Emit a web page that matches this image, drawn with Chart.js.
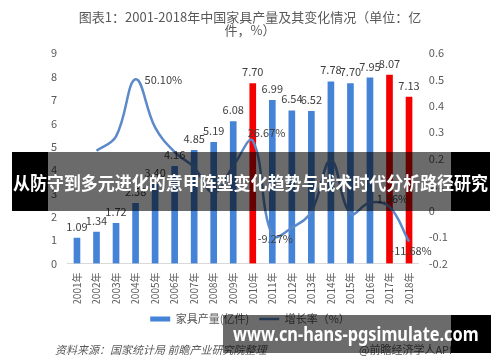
<!DOCTYPE html>
<html>
<head>
<meta charset="utf-8">
<script src="https://cdn.jsdelivr.net/npm/chart.js@4.4.1/dist/chart.umd.min.js"></script>
<style>
  body { margin: 0; background: #fff; }
  #wrap { position: relative; width: 500px; height: 362px; overflow: hidden;
          font-family: "Noto Sans CJK SC", "Noto Sans", sans-serif; }
  #c { position: absolute; left: 0; top: 0; }
  .src { position: absolute; top: 341px; font-size: 11px; color: #595959; white-space: nowrap; }
  .band { position: absolute; }
  .band .blk { position: absolute; top: 0; bottom: 0; background: #000; }
  .band .tr { position: absolute; top: 0; bottom: 0; background: rgba(0, 0, 0, 0.58); }
  .band span { position: absolute; color: #fff; font-weight: bold; white-space: nowrap;
               transform-origin: left center; }
</style>
</head>
<body>
<div id="wrap">
  <canvas id="c" width="500" height="362"></canvas>
  <div class="src" style="left:55px;font-style:italic;">资料来源：国家统计局 前瞻产业研究院整理</div>
  <div class="src" style="left:359px;">@前瞻经济学人APP</div>

  <div class="band" style="left:12px;top:152px;width:478px;height:59px;">
    <div class="blk" style="left:0;width:36px;"></div>
    <div class="tr" style="left:36px;width:403px;"></div>
    <div class="blk" style="left:439px;width:39px;"></div>
    <span id="t1" style="left:1px;top:17px;font-size:18px;line-height:26px;">从防守到多元进化的意甲阵型变化趋势与战术时代分析路径研究</span>
  </div>
  <div class="band" style="left:223px;top:315px;width:268px;height:38px;">
    <div class="tr" style="left:0;width:228px;"></div>
    <div class="blk" style="left:228px;width:40px;"></div>
    <span id="t2" style="left:10px;top:5px;font-family:'Noto Sans',sans-serif;font-size:20px;line-height:28px;">www.cn-hans-pgsimulate.com</span>
  </div>
</div>

<script>
// 数据
const years = ['2001年', '2002年', '2003年', '2004年', '2005年', '2006年', '2007年', '2008年', '2009年',
               '2010年', '2011年', '2012年', '2013年', '2014年', '2015年', '2016年', '2017年', '2018年'];
const output = [1.09, 1.34, 1.72, 2.58, 3.40, 4.16, 4.85, 5.19, 6.08,
                7.70, 6.99, 6.54, 6.52, 7.78, 7.70, 7.95, 8.07, 7.13];
const growth = [null, 0.229, 0.284, 0.501, 0.318, 0.224, 0.166, 0.070, 0.171,
                0.2667, -0.0927, -0.064, -0.003, 0.193, -0.010, 0.032, 0.0156, -0.1168];
const redYears = ['2010年', '2017年', '2018年'];
const labeledGrowth = ['2004年', '2010年', '2011年', '2017年', '2018年'];
const leftRange = [0, 9];
const rightRange = [-0.2, 0.6];

// 标签位置
const growthLabelPos = {
    '2004年': { dx: 9, dy: 1, align: 'left' },
    '2010年': { dx: -5, dy: -8, align: 'left' },
    '2011年': { dx: 3, dy: 4, align: 'center' },
    '2017年': { dx: 3, dy: -8, align: 'center' },
    '2018年': { dx: 2, dy: 9, align: 'center' }
};

const FONT = '"Noto Sans CJK SC", "Noto Sans", sans-serif';
const BLUE = '#4583d6';
const RED = '#f50000';
const LINE = '#5b89c9';

const valueLabels = {
    id: 'valueLabels',
    afterDatasetsDraw(chart) {
        const ctx = chart.ctx;
        ctx.save();
        ctx.font = '11px ' + FONT;
        ctx.fillStyle = '#404040';
        ctx.textBaseline = 'middle';
        ctx.textAlign = 'center';
        chart.getDatasetMeta(0).data.forEach((bar, i) => {
            ctx.fillText(output[i].toFixed(2), bar.x, bar.y - 11.5);
        });
        const pts = chart.getDatasetMeta(1).data;
        labeledGrowth.forEach(y => {
            const i = years.indexOf(y);
            const p = pts[i];
            const pos = growthLabelPos[y];
            ctx.textAlign = pos.align;
            ctx.fillText((growth[i] * 100).toFixed(2) + '%', p.x + pos.dx, p.y + pos.dy);
        });
        ctx.restore();
    }
};

new Chart(document.getElementById('c'), {
    data: {
        labels: years,
        datasets: [{
            type: 'bar',
            label: '家具产量(亿件)',
            data: output,
            yAxisID: 'y',
            order: 2,
            barThickness: 6,
            backgroundColor: years.map(y => redYears.includes(y) ? RED : BLUE)
        }, {
            type: 'line',
            label: '增长率（%）',
            data: growth,
            yAxisID: 'y1',
            order: 1,
            borderColor: LINE,
            backgroundColor: LINE,
            borderWidth: 2.5,
            pointRadius: 0,
            tension: 0.4,
            spanGaps: false
        }]
    },
    options: {
        responsive: false,
        animation: false,
        layout: { padding: { top: 0, bottom: 27.5, left: 0, right: 0 } },
        plugins: {
            tooltip: { enabled: false },
            title: {
                display: true,
                text: ['图表1：2001-2018年中国家具产量及其变化情况（单位：亿', '件，%）'],
                color: '#595959',
                font: { size: 13, family: FONT, weight: 'normal', lineHeight: 1.05 },
                padding: { top: 10, bottom: 16 }
            },
            legend: {
                position: 'bottom',
                labels: {
                    color: '#595959',
                    font: { size: 11, family: FONT },
                    usePointStyle: true,
                    pointStyleWidth: 20,
                    boxHeight: 5,
                    padding: 10,
                    sort: (a, b) => a.datasetIndex - b.datasetIndex,
                    generateLabels(chart) {
                        const items = Chart.defaults.plugins.legend.labels.generateLabels(chart);
                        items.forEach(it => {
                            if (it.datasetIndex === 0) {
                                it.pointStyle = 'rect';
                                it.fillStyle = BLUE;
                                it.lineWidth = 0;
                            } else {
                                it.pointStyle = 'line';
                                it.strokeStyle = LINE;
                                it.lineWidth = 2.5;
                            }
                        });
                        return items;
                    }
                }
            }
        },
        scales: {
            x: {
                grid: { display: false, drawTicks: false },
                border: { display: true, color: '#d9d9d9' },
                ticks: {
                    color: '#595959', font: { size: 10, family: FONT },
                    minRotation: 90, maxRotation: 90, autoSkip: false, padding: 9
                },
                afterFit(axis) { axis.height = 40; }
            },
            y: {
                position: 'left',
                min: leftRange[0], max: leftRange[1],
                grid: { display: false, drawTicks: false },
                border: { display: false },
                ticks: { stepSize: 1, color: '#595959', font: { size: 11, family: FONT }, padding: 10 },
                afterFit(axis) { axis.width = 67.2; }
            },
            y1: {
                position: 'right',
                min: rightRange[0], max: rightRange[1],
                grid: { display: false, drawTicks: false },
                border: { display: false },
                ticks: { stepSize: 0.1, color: '#595959', font: { size: 11, family: FONT }, padding: 10 },
                afterFit(axis) { axis.width = 81.2; }
            }
        }
    },
    plugins: [valueLabels]
});

// 横幅文字拉伸到参考宽度
function fitText(id, w) {
    const el = document.getElementById(id);
    el.style.transform = 'scaleX(' + (w / el.offsetWidth) + ')';
}
fitText('t1', 475);
fitText('t2', 246);
</script>
</body>
</html>
